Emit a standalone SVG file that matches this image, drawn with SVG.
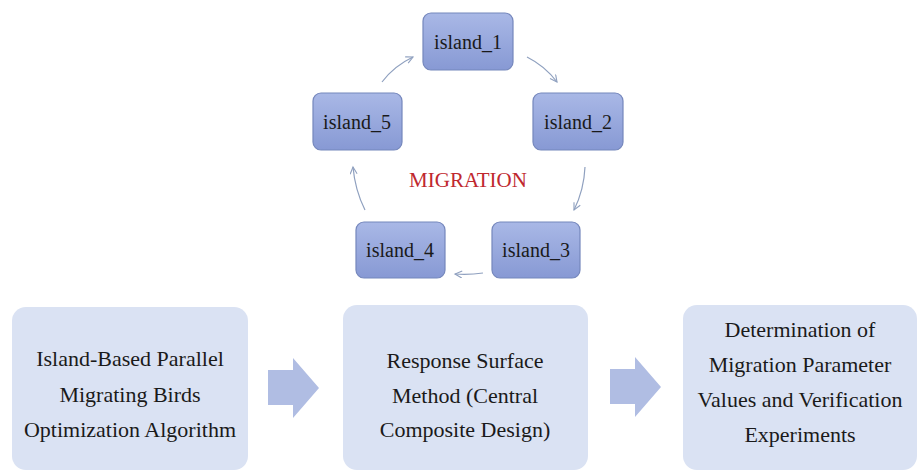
<svg xmlns="http://www.w3.org/2000/svg" width="918" height="472" viewBox="0 0 918 472">
<defs>
<linearGradient id="ig" x1="0" y1="0" x2="0" y2="1">
<stop offset="0" stop-color="#A9B8E6"/>
<stop offset="1" stop-color="#8799D4"/>
</linearGradient>
<marker id="ah" markerWidth="10" markerHeight="10" refX="8" refY="4" orient="auto" markerUnits="userSpaceOnUse">
<path d="M1,0.5 L8,4 L1,7.5" fill="none" stroke="#8FA0BF" stroke-width="1.1"/>
</marker>
<style>
.isl{fill:url(#ig);stroke:#7587BC;stroke-width:1.2}
.big{fill:#DAE2F3;stroke:none}
.blk{fill:#B0BDE3}
.f{font-family:"Liberation Serif",Tinos,"Times New Roman",Times,"DejaVu Serif","Noto Serif",serif}
.it{font-size:20px;fill:#1a1a1a;text-anchor:middle}
.bt{font-size:22px;fill:#1a1a1a;text-anchor:middle}
.con{fill:none;stroke:#8FA0BF;stroke-width:1.2;marker-end:url(#ah)}
</style>
</defs>
<rect width="918" height="472" fill="#ffffff"/>
<g id="island_1"><rect class="isl" x="423" y="13" width="90" height="57" rx="8"/><text class="it f" x="468" y="49">island_1</text></g>
<g id="island_2"><rect class="isl" x="533" y="93" width="90" height="57" rx="8"/><text class="it f" x="578" y="129">island_2</text></g>
<g id="island_3"><rect class="isl" x="492" y="222" width="88" height="56" rx="8"/><text class="it f" x="536" y="257">island_3</text></g>
<g id="island_4"><rect class="isl" x="356" y="222" width="89" height="56" rx="8"/><text class="it f" x="400" y="257">island_4</text></g>
<g id="island_5"><rect class="isl" x="313" y="93" width="89" height="57" rx="8"/><text class="it f" x="357" y="129">island_5</text></g>
<g id="migration_label"><text class="f" x="468" y="187" font-size="21" fill="#C0282E" text-anchor="middle">MIGRATION</text></g>
<g id="connectors">
<path class="con" d="M382,82 Q394,66 413,57"/>
<path class="con" d="M527,57 Q545,66 557,82"/>
<path class="con" d="M585,167 Q584,190 574,210"/>
<path class="con" d="M483,273 Q469,275 455,274"/>
<path class="con" d="M365,210 Q355,190 353,167"/>
<path class="blk" d="M268,370 H293 V358 L319,388 L293,418 V405 H268 Z"/>
<path class="blk" d="M268,370 H293 V358 L319,388 L293,418 V405 H268 Z" transform="translate(342,-1)"/>
</g>
<g id="box_ibpmbo"><rect class="big" x="12" y="307" width="236" height="163" rx="14"/>
<text class="bt f" x="130" y="366">Island-Based Parallel</text>
<text class="bt f" x="130" y="402">Migrating Birds</text>
<text class="bt f" x="130" y="437">Optimization Algorithm</text></g>
<g id="box_rsm"><rect class="big" x="343" y="305" width="245" height="165" rx="14"/>
<text class="bt f" x="465" y="368">Response Surface</text>
<text class="bt f" x="465" y="403">Method (Central</text>
<text class="bt f" x="465" y="437">Composite Design)</text></g>
<g id="box_det"><rect class="big" x="683" y="305" width="234" height="165" rx="14"/>
<text class="bt f" x="800" y="337">Determination of</text>
<text class="bt f" x="800" y="372">Migration Parameter</text>
<text class="bt f" x="800" y="407">Values and Verification</text>
<text class="bt f" x="800" y="442">Experiments</text></g>
</svg>
